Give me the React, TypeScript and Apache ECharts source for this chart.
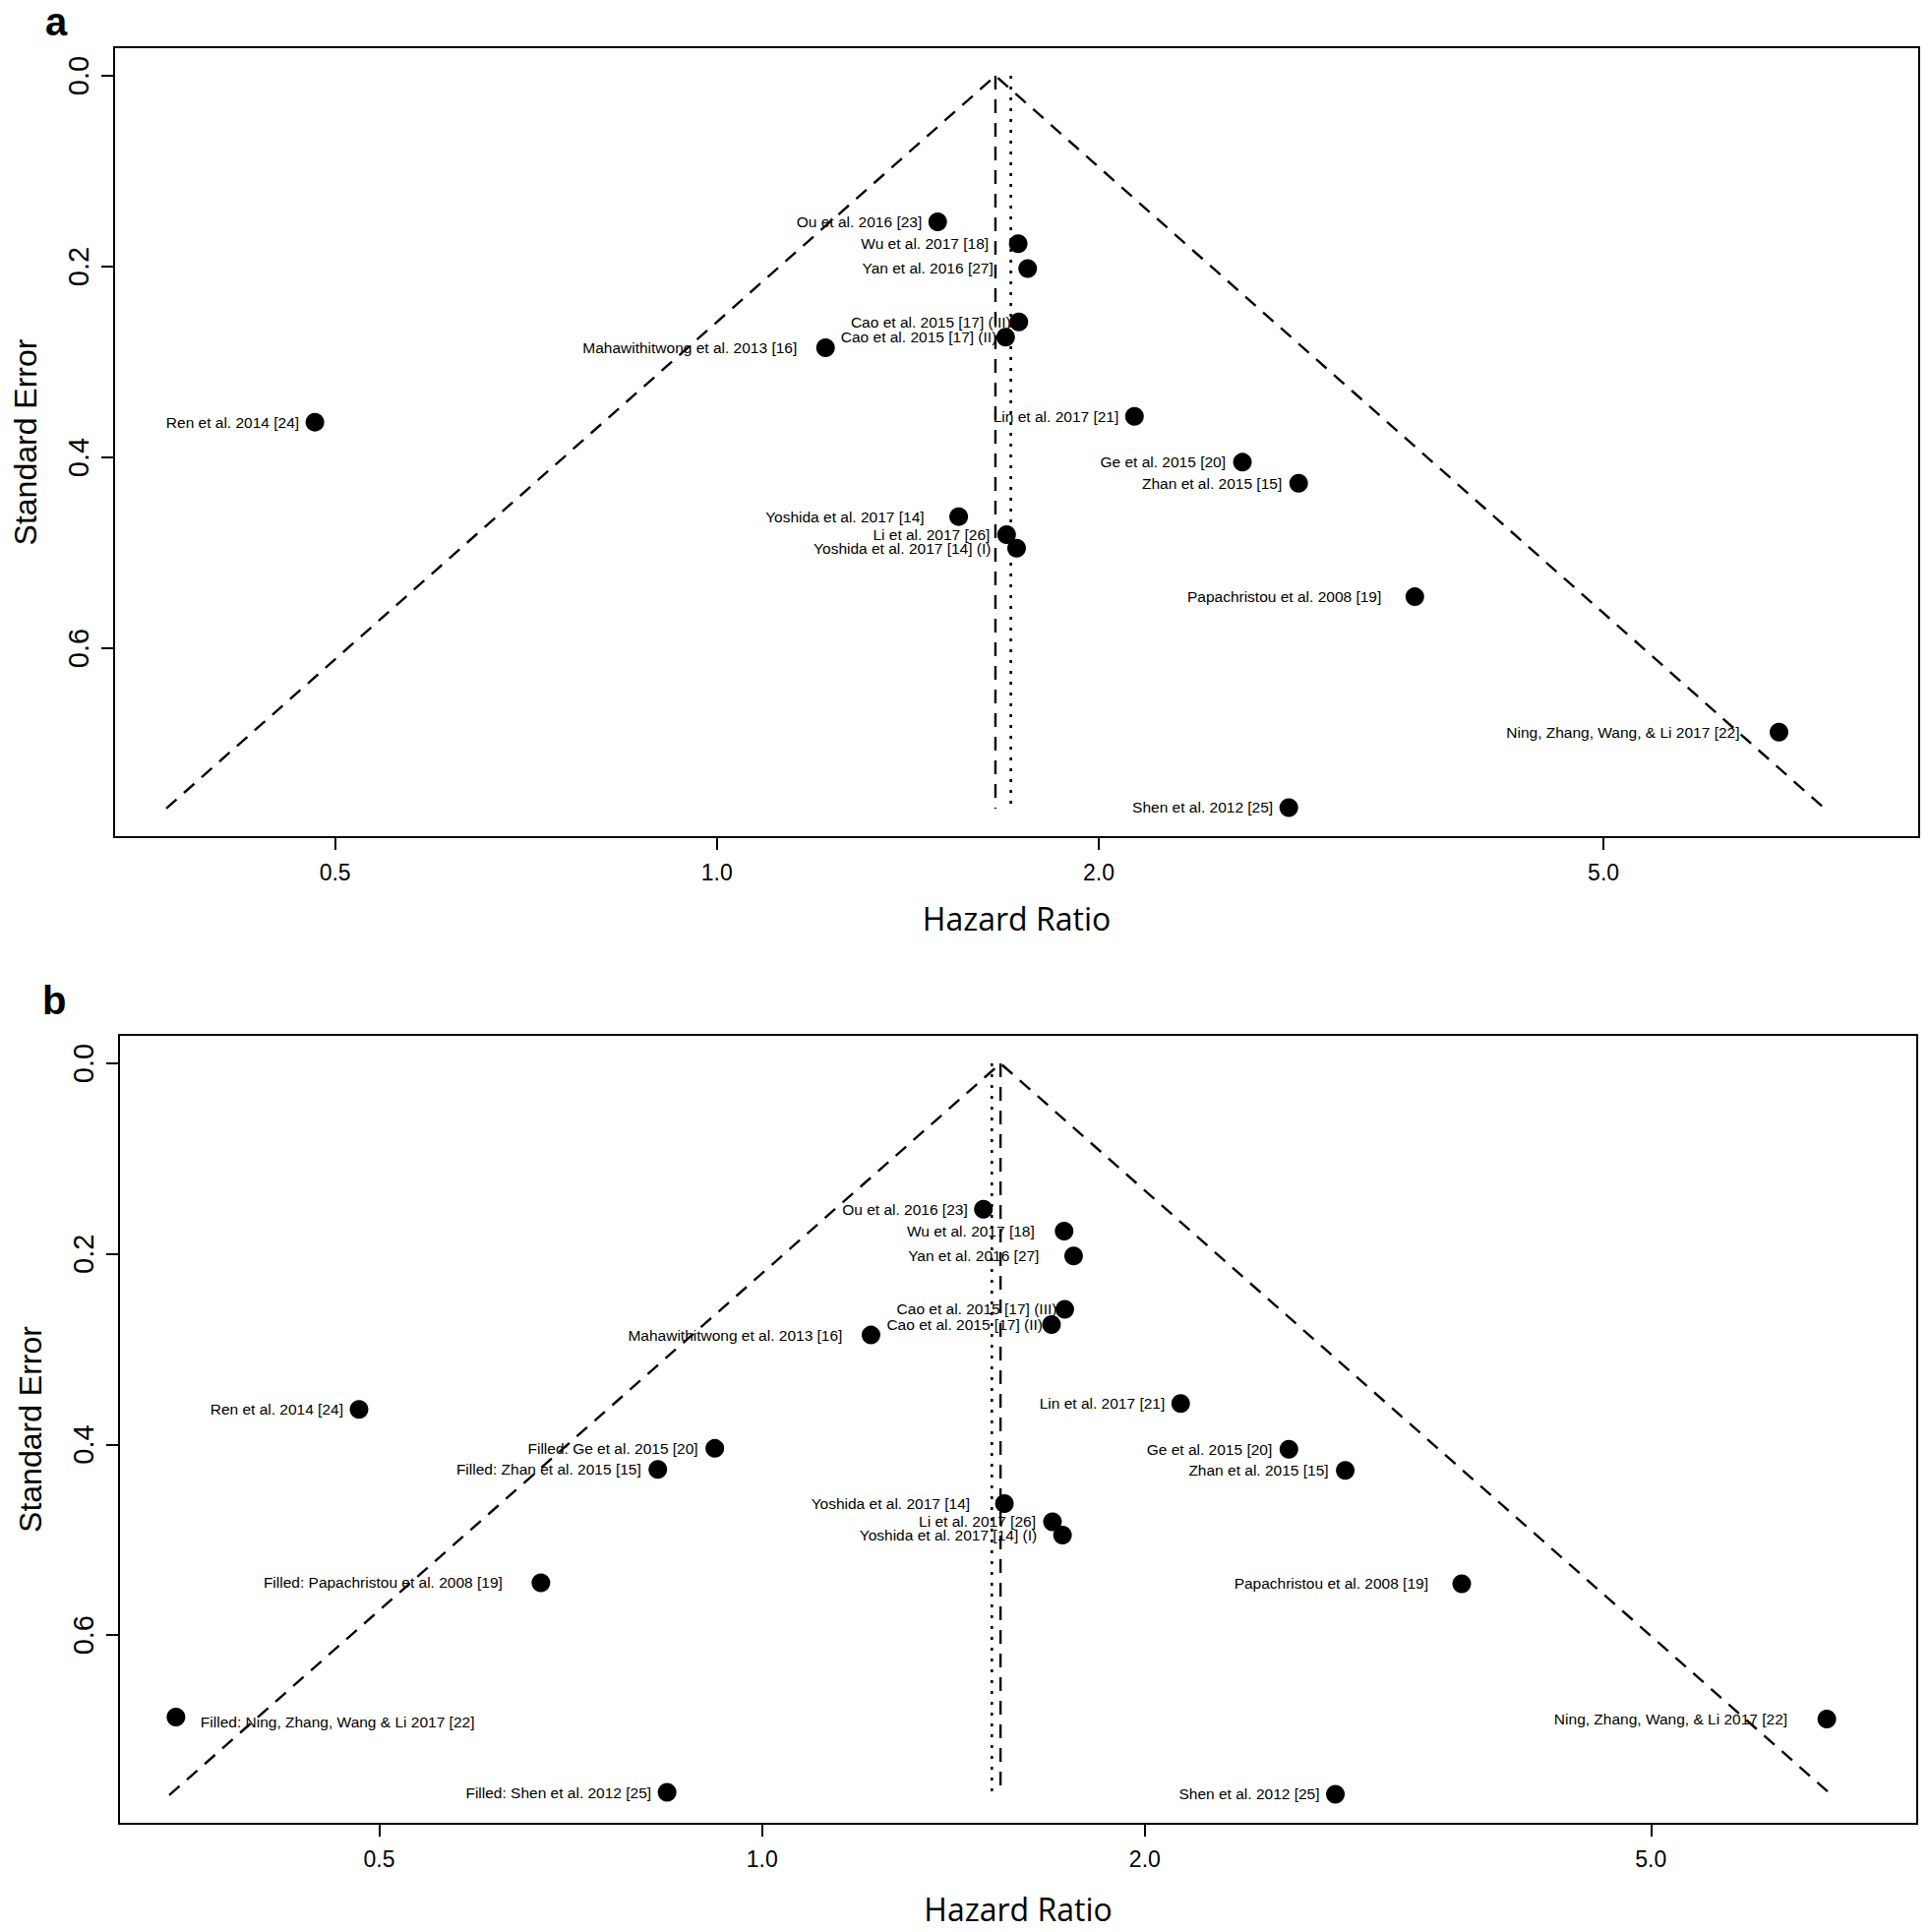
import React, { useEffect, useRef } from "react";
import * as echarts from "echarts";

// ---------------- data ----------------
const studyLabels = [
  "Ou et al. 2016 [23]",
  "Wu et al. 2017 [18]",
  "Yan et al. 2016 [27]",
  "Cao et al. 2015 [17] (III)",
  "Cao et al. 2015 [17] (II)",
  "Mahawithitwong et al. 2013 [16]",
  "Lin et al. 2017 [21]",
  "Ge et al. 2015 [20]",
  "Zhan et al. 2015 [15]",
  "Yoshida et al. 2017 [14]",
  "Li et al. 2017 [26]",
  "Yoshida et al. 2017 [14] (I)",
  "Ren et al. 2014 [24]",
  "Papachristou et al. 2008 [19]",
  "Ning, Zhang, Wang, & Li 2017 [22]",
  "Shen et al. 2012 [25]",
];
const hazardRatio = [1.493, 1.728, 1.758, 1.73, 1.689, 1.218, 2.134, 2.596, 2.875, 1.551, 1.692, 1.723, 0.482, 3.55, 6.876, 2.824];
const standardError = [0.153, 0.176, 0.202, 0.258, 0.274, 0.285, 0.357, 0.405, 0.427, 0.462, 0.481, 0.495, 0.363, 0.546, 0.688, 0.767];

const filledLabels = [
  "Filled: Ge et al. 2015 [20]",
  "Filled: Zhan et al. 2015 [15]",
  "Filled: Papachristou et al. 2008 [19]",
  "Filled: Ning, Zhang, Wang & Li 2017 [22]",
  "Filled: Shen et al. 2012 [25]",
];
const filledHR = [0.918, 0.828, 0.67, 0.346, 0.842];
const filledSE = [0.404, 0.426, 0.545, 0.686, 0.765];

// pooled estimates / reference lines
const pooledA = 1.658;
const dottedRefA = 1.705;
const pooledB = 1.54;
const dottedRefB = 1.516;
const funnelMaxSE = 0.768;

const xTickValues = [0.5, 1.0, 2.0, 5.0];
const yTickValues = [0, 0.2, 0.4, 0.6];

// ---------------- styles / layout ----------------
const studyLabelGap = [16, 30, 35, 8, 9, 29, 16, 17, 17, 35, 17, 26, 16, 34, 40, 16];
const filledLabelGap = [17, 17, 39, 25, 16];
const filledLabelRight = [false, false, false, true, false];

const SANS = "'Liberation Sans', Arial, Helvetica, sans-serif";
const TITLE = "'Open Sans', 'Noto Sans', sans-serif";
const DOT_R = 9.5;

function buildPanel(idx: number, pooled: number, dottedRef: number, withFilled: boolean, xRange: [number, number], xNameGap: number) {
  const c = Math.log(pooled);
  const d = Math.log(dottedRef);
  const half = 1.96 * funnelMaxSE;
  const pts: any[] = hazardRatio.map((hr, i) => ({
    name: studyLabels[i],
    value: [Math.log(hr), standardError[i]],
    label: { position: "left", distance: studyLabelGap[i] - DOT_R },
  }));
  if (withFilled) {
    filledHR.forEach((hr, i) => {
      pts.push({
        name: filledLabels[i],
        value: [Math.log(hr), filledSE[i]],
        label: filledLabelRight[i]
          ? { position: "right", distance: filledLabelGap[i] - DOT_R, offset: [0, 5] }
          : { position: "left", distance: filledLabelGap[i] - DOT_R },
      });
    });
  }
  const xAxis = {
    gridIndex: idx,
    type: "value",
    min: xRange[0],
    max: xRange[1],
    name: "Hazard Ratio",
    nameLocation: "middle",
    nameGap: xNameGap,
    nameTextStyle: { fontFamily: TITLE, fontSize: 32, color: "#000", verticalAlign: "top" },
    axisLine: { show: true, onZero: false, lineStyle: { color: "#000", width: 2 } },
    axisTick: { show: true, length: 13, lineStyle: { color: "#000", width: 2 }, customValues: xTickValues.map((v) => Math.log(v)) },
    axisLabel: {
      show: true,
      margin: 24,
      fontFamily: SANS,
      fontSize: 23,
      color: "#000",
      customValues: xTickValues.map((v) => Math.log(v)),
      formatter: (v: number) => Math.exp(v).toFixed(1),
    },
    splitLine: { show: false },
  };
  const yAxis = {
    gridIndex: idx,
    type: "value",
    inverse: true,
    min: -0.03,
    max: 0.798,
    name: "Standard Error",
    nameLocation: "middle",
    nameRotate: 90,
    nameGap: 74,
    nameTextStyle: { fontFamily: SANS, fontSize: 32, color: "#000" },
    axisLine: { show: true, onZero: false, lineStyle: { color: "#000", width: 2 } },
    axisTick: { show: true, length: 13, lineStyle: { color: "#000", width: 2 }, customValues: yTickValues },
    axisLabel: {
      show: true,
      rotate: 90,
      margin: 22,
      fontFamily: SANS,
      fontSize: 29,
      color: "#000",
      customValues: yTickValues,
      formatter: (v: number) => v.toFixed(1),
    },
    splitLine: { show: false },
  };
  const dashed = { color: "#000", width: 2.4, type: [14, 10] };
  const series = [
    {
      type: "line",
      xAxisIndex: idx,
      yAxisIndex: idx,
      data: [
        [c - half, funnelMaxSE],
        [c, 0],
        [c + half, funnelMaxSE],
      ],
      symbol: "none",
      silent: true,
      lineStyle: dashed,
      z: 1,
    },
    {
      type: "line",
      xAxisIndex: idx,
      yAxisIndex: idx,
      data: [
        [c, 0],
        [c, funnelMaxSE],
      ],
      symbol: "none",
      silent: true,
      lineStyle: dashed,
      z: 1,
    },
    {
      type: "line",
      xAxisIndex: idx,
      yAxisIndex: idx,
      data: [
        [d, 0],
        [d, funnelMaxSE],
      ],
      symbol: "none",
      silent: true,
      lineStyle: { color: "#000", width: 2.6, type: [3, 8] },
      z: 1,
    },
    {
      type: "scatter",
      xAxisIndex: idx,
      yAxisIndex: idx,
      symbol: "circle",
      symbolSize: DOT_R * 2,
      itemStyle: { color: "#000", opacity: 1 },
      label: {
        show: true,
        formatter: "{b}",
        fontFamily: SANS,
        fontSize: 15.5,
        color: "#000",
      },
      data: pts,
      z: 3,
    },
  ];
  return { xAxis, yAxis, series };
}

export default function App() {
  const ref = useRef<HTMLDivElement>(null);
  useEffect(() => {
    document.body.style.margin = "0";
    document.body.style.overflow = "hidden";
    if (!ref.current) return;
    const chart = echarts.init(ref.current, null, { renderer: "svg" });
    const pa = buildPanel(0, pooledA, dottedRefA, false, [-1.0943, 2.1825], 66);
    const pb = buildPanel(1, pooledB, dottedRefB, true, [-1.1644, 2.0917], 70);
    chart.setOption({
      animation: false,
      backgroundColor: "#fff",
      grid: [
        { left: 116, top: 48, width: 1835, height: 803, show: true, borderColor: "#000", borderWidth: 2, containLabel: false },
        { left: 121, top: 1052, width: 1828, height: 802, show: true, borderColor: "#000", borderWidth: 2, containLabel: false },
      ],
      xAxis: [pa.xAxis, pb.xAxis],
      yAxis: [pa.yAxis, pb.yAxis],
      series: [...pa.series, ...pb.series],
      graphic: [
        { type: "text", x: 46, y: 22, style: { text: "a", font: `bold 40px ${SANS}`, fill: "#000", verticalAlign: "middle" } },
        { type: "text", x: 43, y: 1017, style: { text: "b", font: `bold 40px ${SANS}`, fill: "#000", verticalAlign: "middle" } },
      ],
    });
    return () => chart.dispose();
  }, []);
  return <div ref={ref} style={{ width: 1961, height: 1964 }} />;
}
